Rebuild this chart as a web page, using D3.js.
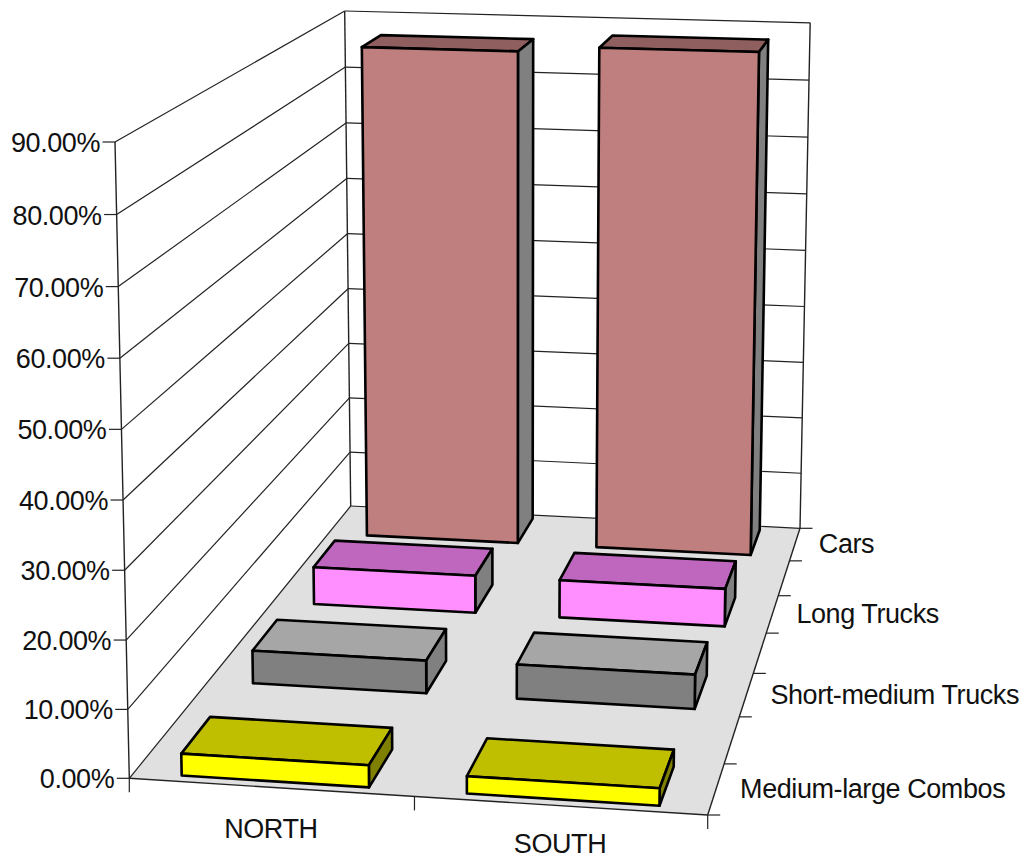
<!DOCTYPE html>
<html>
<head>
<meta charset="utf-8">
<script src="https://cdn.jsdelivr.net/npm/d3@7"></script>
<style>
  html, body { margin: 0; padding: 0; background: #fff; }
  svg { display: block; }
  text { font-family: "Liberation Sans", Arial, sans-serif; font-size: 27px; fill: #111; letter-spacing: -0.42px; }
</style>
</head>
<body>
<svg id="chart" width="1024" height="859"></svg>
<script>
// Chart data
const regions = ["NORTH", "SOUTH"];
const vehicleClasses = ["Medium-large Combos", "Short-medium Trucks", "Long Trucks", "Cars"];
const northShares = [3.2, 5.1, 6.2, 86.2];
const southShares = [2.5, 5.3, 6.2, 87.2];
const valueTicks = [0, 10, 20, 30, 40, 50, 60, 70, 80, 90];

// Face colours per vehicle class: front, top, side
const frontColors = ["#ffff00", "#808080", "#ff8fff", "#bf7f7f"];
const topColors = ["#bfbf00", "#a6a6a6", "#bf67bf", "#8f5f5f"];
const sideColors = ["#808000", "#808080", "#808080", "#808080"];

// Camera: where the chart box's corners land on the page
const boxFloor = [[129.3, 778.3], [707.7, 815], [800, 528.3], [350.7, 506]];
const boxTopFrontLeft = [115, 142];
const boxTopBackLeft = [346.7, 11];
// The right side of the box fans out a little towards its top
const rightSideLean = 6;

const makeCamera = () => {
  const [p0, p1, p2, p3] = boxFloor;
  const dx1 = p1[0] - p2[0], dx2 = p3[0] - p2[0], sx = p0[0] - p1[0] + p2[0] - p3[0];
  const dy1 = p1[1] - p2[1], dy2 = p3[1] - p2[1], sy = p0[1] - p1[1] + p2[1] - p3[1];
  const den = dx1 * dy2 - dx2 * dy1;
  const g = (sx * dy2 - dx2 * sy) / den;
  const h = (dx1 * sy - sx * dy1) / den;
  const colX = [p1[0] - p0[0] + g * p1[0], p1[1] - p0[1] + g * p1[1], g];
  const colZ = [p3[0] - p0[0] + h * p3[0], p3[1] - p0[1] + h * p3[1], h];
  const colO = [p0[0], p0[1], 1];
  const py = boxTopFrontLeft[1], qy = boxTopBackLeft[1];
  const s = (qy * colZ[2] - colZ[1]) / (py - qy);
  const colY = [s * boxTopFrontLeft[0] - colO[0], s * py - colO[1], s - 1];
  return (u, t, v) => {
    const w = colX[2] * u + colY[2] * t + colZ[2] * v + colO[2];
    return [
      (colX[0] * u + colY[0] * t + colZ[0] * v + colO[0]) / w + rightSideLean * t * u,
      (colX[1] * u + colY[1] * t + colZ[1] * v + colO[1]) / w
    ];
  };
};
const project = makeCamera();

// Scales map data to unit box coordinates; the camera takes those to the page
const xBand = d3.scaleBand().domain(regions).range([0, 1]).paddingInner(0.34).paddingOuter(0.17);
const xSlot = d3.scaleBand().domain(regions).range([0, 1]);
const zBand = d3.scaleBand().domain(vehicleClasses).range([0, 1]).paddingInner(0.615).paddingOuter(0.0575);
const yScale = d3.scaleLinear().domain([0, 90]).range([0, 1]);

const svg = d3.select("#chart");
const path = d3.line();
const frameColor = "#222";

const segment = (g, a, b, width) => g.append("path")
  .attr("d", path([a, b]))
  .attr("fill", "none")
  .attr("stroke", frameColor)
  .attr("stroke-width", width);

// Floor
svg.append("path")
  .attr("d", path([project(0, 0, 0), project(1, 0, 0), project(1, 0, 1), project(0, 0, 1)]) + "Z")
  .attr("fill", "#e0e0e0");

// Walls and gridlines
const frame = svg.append("g");
valueTicks.forEach(v => {
  const t = yScale(v);
  segment(frame, project(0, t, 0), project(0, t, 1), 1.2);
  segment(frame, project(0, t, 1), project(1, t, 1), 1.2);
  const a = project(0, t, 0);
  segment(frame, [a[0] - 12.5, a[1]], a, 1.2);
});
segment(frame, project(0, 0, 0), project(0, 1, 0), 1.4);
segment(frame, project(0, 0, 1), project(0, 1, 1), 1.4);
segment(frame, project(1, 0, 1), project(1, 1, 1), 1.4);
segment(frame, project(1, 0, 0), project(1, 0, 1), 1.4);
segment(frame, project(0, 0, 0), project(1, 0, 0), 1.4);

// Depth ticks along the right floor edge
d3.range(8).forEach(i => {
  const a = project(1, 0, i / 7);
  segment(frame, a, [a[0] + 12.5, a[1]], 1.2);
});
// Category ticks under the front edge
d3.range(3).forEach(i => {
  const a = project(i / 2, 0, 0);
  segment(frame, a, [a[0], a[1] + 14], 1.2);
});

// Value labels
valueTicks.forEach(v => {
  const a = project(0, yScale(v), 0);
  svg.append("text")
    .attr("x", a[0] - 15)
    .attr("y", a[1] + 10)
    .attr("text-anchor", "end")
    .text(d3.format(".2f")(v) + "%");
});

// Category labels, held just inside the bottom edge of the page
regions.forEach(r => {
  const a = project(xSlot(r) + xSlot.bandwidth() / 2, 0, 0);
  svg.append("text")
    .attr("x", a[0])
    .attr("y", Math.min(a[1] + 50.5, 853))
    .attr("text-anchor", "middle")
    .text(r);
});

// Series labels
vehicleClasses.forEach(c => {
  const a = project(1, 0, zBand(c) + zBand.bandwidth() / 2);
  svg.append("text")
    .attr("x", a[0] + 24)
    .attr("y", a[1] + 9)
    .text(c);
});

// Boxes, back row first so nearer ones overlap
const shares = { NORTH: northShares, SOUTH: southShares };
const bars = svg.append("g")
  .attr("stroke", "#000")
  .attr("stroke-width", 2.6)
  .attr("stroke-linejoin", "round");
d3.range(vehicleClasses.length - 1, -1, -1).forEach(i => {
  regions.forEach(r => {
    const x0 = xBand(r), x1 = x0 + xBand.bandwidth();
    const z0 = zBand(vehicleClasses[i]), z1 = z0 + zBand.bandwidth();
    const t = yScale(shares[r][i]);
    const face = (pts, color) => bars.append("path")
      .attr("d", path(pts.map(p => project(...p))) + "Z")
      .attr("fill", color);
    face([[x0, t, z0], [x1, t, z0], [x1, t, z1], [x0, t, z1]], topColors[i]);
    face([[x1, 0, z0], [x1, 0, z1], [x1, t, z1], [x1, t, z0]], sideColors[i]);
    face([[x0, 0, z0], [x1, 0, z0], [x1, t, z0], [x0, t, z0]], frontColors[i]);
  });
});
</script>
</body>
</html>
